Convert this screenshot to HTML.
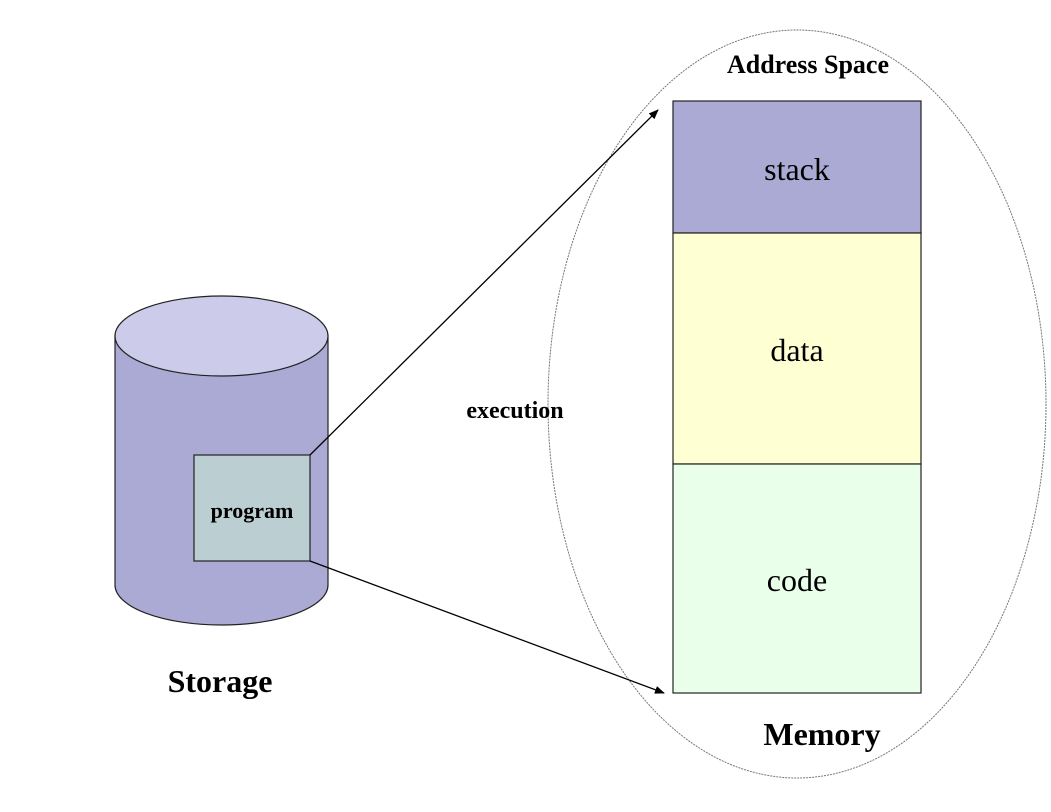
<!DOCTYPE html>
<html><head><style>body{margin:0;background:#fff}svg{display:block}</style></head><body>
<svg width="1051" height="812" viewBox="0 0 1051 812" xmlns="http://www.w3.org/2000/svg" font-family="Liberation Serif, serif">
<defs><marker id="a" markerWidth="10" markerHeight="8" refX="9" refY="4" orient="auto" markerUnits="userSpaceOnUse"><path d="M0,0 L10,4 L0,8 Z" fill="#000"/></marker></defs>
<ellipse cx="797" cy="404" rx="249" ry="374" fill="none" stroke="#777" stroke-width="1" stroke-dasharray="2,1"/>
<path d="M115,336 L115,585 A106.5,40 0 0 0 328,585 L328,336 Z" fill="#aaaad4" stroke="#222" stroke-width="1.2"/>
<ellipse cx="221.5" cy="336" rx="106.5" ry="40" fill="#ccccea" stroke="#222" stroke-width="1.2"/>
<rect x="194" y="455" width="116" height="106" fill="#bbcfd2" stroke="#222" stroke-width="1.2"/>
<text x="252" y="518" font-size="22" font-weight="bold" text-anchor="middle">program</text>
<line x1="310" y1="455" x2="658" y2="110" stroke="#000" stroke-width="1.3" marker-end="url(#a)"/>
<line x1="310" y1="561" x2="664" y2="693" stroke="#000" stroke-width="1.3" marker-end="url(#a)"/>
<rect x="673" y="101" width="248" height="132" fill="#aaaad4" stroke="#222" stroke-width="1.2"/>
<rect x="673" y="233" width="248" height="231" fill="#ffffd4" stroke="#222" stroke-width="1.2"/>
<rect x="673" y="464" width="248" height="229" fill="#eaffea" stroke="#222" stroke-width="1.2"/>
<text x="797" y="180" font-size="32" text-anchor="middle">stack</text>
<text x="797" y="361" font-size="32" text-anchor="middle">data</text>
<text x="797" y="591" font-size="32" text-anchor="middle">code</text>
<text x="808" y="73" font-size="26" font-weight="bold" text-anchor="middle">Address Space</text>
<text x="515" y="418" font-size="24" font-weight="bold" text-anchor="middle">execution</text>
<text x="220" y="692" font-size="32" font-weight="bold" text-anchor="middle">Storage</text>
<text x="822" y="745" font-size="32" font-weight="bold" text-anchor="middle">Memory</text>
</svg>
</body></html>
